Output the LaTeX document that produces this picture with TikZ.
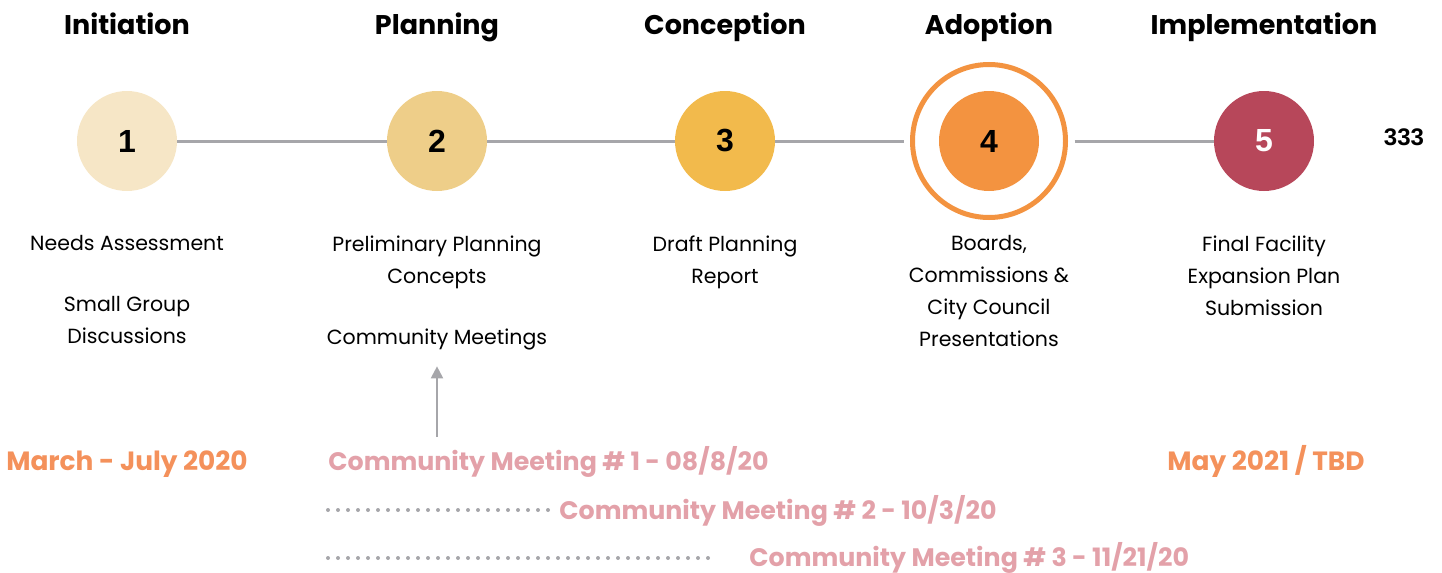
\documentclass[tikz,border=0pt]{standalone}
\usepackage{fontspec}
\setmainfont{Poppins}
\newfontfamily\numfont{Liberation Sans}
\usetikzlibrary{arrows.meta, positioning}
\definecolor{stepA}{HTML}{F6E6C6}
\definecolor{stepB}{HTML}{EECE89}
\definecolor{stepC}{HTML}{F2BA4C}
\definecolor{stepD}{HTML}{F39340}
\definecolor{stepE}{HTML}{B7475A}
\definecolor{linegray}{HTML}{A6A6AA}
\definecolor{dateorange}{HTML}{F4915B}
\definecolor{meetpink}{HTML}{E3A1A9}

\begin{document}
\begin{tikzpicture}[
    x=0.5pt, y=-0.5pt,
    stage/.style={circle, minimum size=50pt, inner sep=0pt, fill=#1,
                  font=\numfont\bfseries\fontsize{16}{16}\selectfont},
    stage/.default=stepA,
    phase/.style={inner sep=0pt, text depth=0pt, font=\bfseries\fontsize{13.5}{16}\selectfont},
    desc/.style={inner sep=0pt, align=center, font=\fontsize{10.25}{16}\selectfont},
    link/.style={draw=linegray, line width=1.5pt},
    uparrow/.style={-{Triangle[length=6pt, width=6pt]}, draw=linegray, line width=1pt, shorten >=8pt},
    datetext/.style={inner sep=0pt, text=dateorange, font=\bfseries\fontsize{13.2}{15}\selectfont},
    meet/.style={inner sep=0pt, text=meetpink, font=\bfseries\fontsize{12.65}{15}\selectfont},
    dots/.style={draw=linegray, line width=2pt, line cap=round, dash pattern=on 0pt off 5pt},
]
\useasboundingbox (0,0) rectangle (1442,573);

% Stages
\node[stage=stepA] (c1) at (127,141)  {1};
\node[stage=stepB] (c2) at (437,141)  {2};
\node[stage=stepC] (c3) at (725,141)  {3};
\node[stage=stepD] (c4) at (989,141)  {4};
\node[stage=stepE, text=white] (c5) at (1264,141) {5};
\node[circle, draw=stepD, line width=2.5pt, minimum size=76.5pt, outer sep=4.5pt] (ring) at (c4) {};
\node[font=\numfont\bfseries\fontsize{12}{12}\selectfont] (num) at (1404,137) {333};

% Timeline
\draw[link] (c1) -- (c2);
\draw[link] (c2) -- (c3);
\draw[link] (c3) -- (ring);
\draw[link] (ring) -- (c5);

% Phase titles
\node[phase, above=28pt of c1] (h1) {Initiation};
\node[phase, above=28pt of c2] (h2) {Planning};
\node[phase, above=28pt of c3] (h3) {Conception};
\node[phase, above=28pt of c4] (h4) {Adoption};
\node[phase, above=28pt of c5] (h5) {Implementation};

% Descriptions
\node[desc, below=22pt of c1] (d1) {Needs Assessment\\[14.5pt]Small Group\\Discussions};
\node[desc, below=22pt of c2] (d2) {Preliminary Planning\\Concepts\\[14.5pt]Community Meetings};
\node[desc, below=22pt of c3] (d3) {Draft Planning\\Report};
\node[desc, below=22pt of c4] (d4) {Boards,\\Commissions \&\\City Council\\Presentations};
\node[desc, below=22pt of c5] (d5) {Final Facility\\Expansion Plan\\Submission};

% Dates
\node[datetext] (t1) at (127,464)  {March - July 2020};
\node[datetext] (t5) at (1266,461) {May 2021 / TBD};

% Community meetings
\coordinate (a1) at (437,437);
\draw[uparrow] (a1) -- (d2);
\node[meet, anchor=mid west] (m1) at (328,465) {Community Meeting \# 1 - 08/8/20};
\node[meet, anchor=mid west] (m2) at (559,514) {Community Meeting \# 2 - 10/3/20};
\node[meet, anchor=mid west] (m3) at (749,561) {Community Meeting \# 3 - 11/21/20};
\coordinate (s2) at (328,510);
\coordinate (s3) at (328,558);
\draw[dots, shorten >=5pt] (s2) -- (m2.west |- s2);
\draw[dots, shorten >=18pt] (s3) -- (m3.west |- s3);
\end{tikzpicture}
\end{document}
